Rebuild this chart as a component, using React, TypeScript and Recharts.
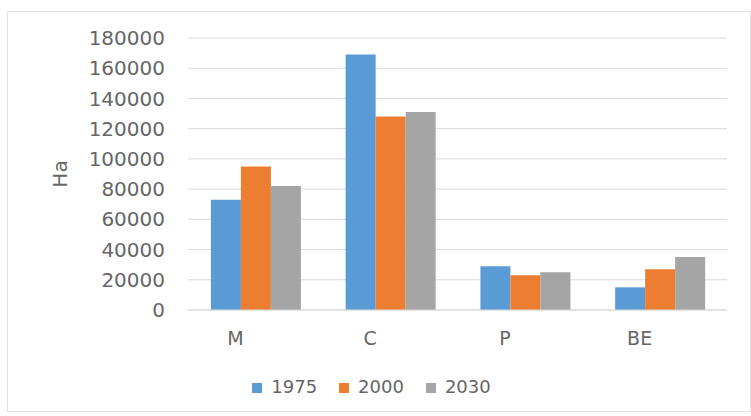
import React from "react";
import {
  BarChart,
  Bar,
  XAxis,
  YAxis,
  CartesianGrid,
  Legend,
} from "recharts";

const categories = ["M", "C", "P", "BE"];
const area1975 = [73000, 169000, 29000, 15000];
const area2000 = [95000, 128000, 23000, 27000];
const area2030 = [82000, 131000, 25000, 35000];
const yTicks = [0, 20000, 40000, 60000, 80000, 100000, 120000, 140000, 160000, 180000];

const data = categories.map((name, i) => ({
  name,
  y1975: area1975[i],
  y2000: area2000[i],
  y2030: area2030[i],
}));

const FONT = "'DejaVu Sans', sans-serif";
const TEXT = "#666666";

const App = () => {
  return (
    <div style={{ position: "absolute", left: 0, top: 0, width: 751, height: 416, background: "#fff" }}>
      <div
        style={{
          position: "absolute",
          left: 7,
          top: 11,
          width: 742,
          height: 399,
          border: "1px solid #e2e2e2",
        }}
      />
      <BarChart
        width={751}
        height={416}
        data={data}
        margin={{ top: 38, right: 24, bottom: 56, left: 0 }}
        barCategoryGap="17%"
        barGap={0}
        style={{ position: "absolute", left: 0, top: 0, fontFamily: FONT }}
      >
        <CartesianGrid vertical={false} stroke="#d9d9d9" />
        <XAxis
          dataKey="name"
          height={50}
          tickSize={0}
          tickMargin={22}
          dx={-20}
          axisLine={{ stroke: "#d9d9d9" }}
          tickLine={false}
          tick={{ fill: TEXT, fontSize: 19 }}
        />
        <YAxis
          width={188}
          domain={[0, 180000]}
          ticks={yTicks}
          interval={0}
          tickSize={0}
          tickMargin={23}
          axisLine={false}
          tickLine={false}
          tick={{ fill: TEXT, fontSize: 20 }}
          label={{
            value: "Ha",
            angle: -90,
            position: "center",
            dx: -34,
            fill: TEXT,
            fontSize: 20,
          }}
        />
        <Legend
          verticalAlign="middle"
          align="center"
          layout="horizontal"
          iconType="square"
          iconSize={10}
          wrapperStyle={{ top: 376, left: 19, width: 727, fontSize: 18, color: TEXT }}
          formatter={(value: string) => (
            <span style={{ color: TEXT, marginLeft: 5, paddingRight: 12 }}>{value}</span>
          )}
        />
        <Bar dataKey="y1975" name="1975" fill="#5B9BD5" isAnimationActive={false} />
        <Bar dataKey="y2000" name="2000" fill="#ED7D31" isAnimationActive={false} />
        <Bar dataKey="y2030" name="2030" fill="#A5A5A5" isAnimationActive={false} />
      </BarChart>
    </div>
  );
};

export default App;
